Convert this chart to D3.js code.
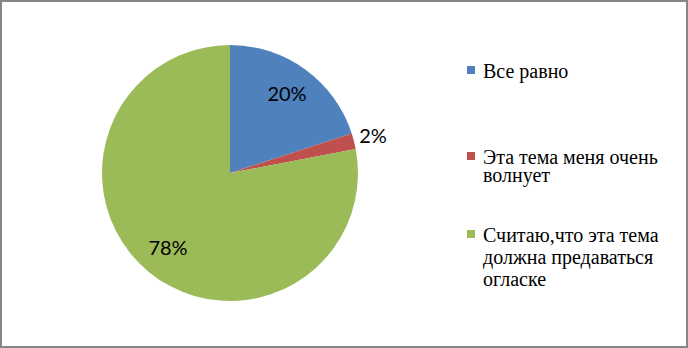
<!DOCTYPE html>
<html lang="ru">
<head>
<meta charset="utf-8">
<script src="https://cdn.jsdelivr.net/npm/d3@7"></script>
</head>
<body style="margin:0">
<div id="container"></div>
<script>
let w = 688;
let h = 348;

// chart data
let categories = ["Все равно", "Эта тема меня очень волнует", "Считаю,что эта тема должна предаваться огласке"];
let values = [20, 2, 78];
let percentLabels = ["20%", "2%", "78%"];
let legendLines = [["Все равно"], ["Эта тема меня очень", "волнует"], ["Считаю,что эта тема", "должна предаваться", "огласке"]];
let colors = ["#4f81bd", "#c0504d", "#9bbb59"];

let cx = 230;
let cy = 173;
let radius = 128;

let viz = d3.select("#container").append("svg")
    .attr("width", w)
    .attr("height", h)
    .attr("lang", "ru");

// frame
viz.append("rect")
    .attr("x", 1)
    .attr("y", 1)
    .attr("width", w - 2)
    .attr("height", h - 2)
    .attr("fill", "none")
    .attr("stroke", "#868686")
    .attr("stroke-width", 2);

// legend (baseline of first line, gap between lines)
let legendBase = [78, 164, 242];
let legendGap = [20, 18, 22];

legendLines.forEach(function(lines, i) {
  viz.append("rect")
    .attr("x", 467)
    .attr("y", legendBase[i] - 12)
    .attr("width", 8)
    .attr("height", 8)
    .attr("fill", colors[i]);
  lines.forEach(function(line, j) {
    viz.append("text")
      .attr("x", 483)
      .attr("y", legendBase[i] + j * legendGap[i])
      .attr("lang", "ru")
      .style("font-family", "'Liberation Serif', 'Times New Roman', Tinos, FreeSerif, serif")
      .style("font-size", "20px")
      .text(line);
  });
});

let pie = d3.pie().sort(null).value(d => d);
let arcs = pie(values);
let arc = d3.arc().innerRadius(0).outerRadius(radius);

let pieGroup = viz.append("g").attr("transform", "translate(" + cx + "," + cy + ")");

pieGroup.selectAll("path").data(arcs)
  .enter()
    .append("path")
    .attr("d", arc)
    .attr("fill", (d, i) => colors[i]);

// label positions: inside for big slices, outside for the small one
let labelArcInner = d3.arc().innerRadius(radius * 0.76).outerRadius(radius * 0.76);
let labelArcOuter = d3.arc().innerRadius(radius * 1.15).outerRadius(radius * 1.15);

pieGroup.selectAll("text").data(arcs)
  .enter()
    .append("text")
    .attr("x", function(d, i) {
      let p = (i === 1) ? labelArcOuter.centroid(d) : labelArcInner.centroid(d);
      return Math.round(p[0]);
    })
    .attr("y", function(d, i) {
      let p = (i === 1) ? labelArcOuter.centroid(d) : labelArcInner.centroid(d);
      return Math.round(p[1]) + 7;
    })
    .attr("text-anchor", "middle")
    .style("font-family", "Lato")
    .style("font-size", "20px")
    .text((d, i) => percentLabels[i]);
</script>
</body>
</html>
